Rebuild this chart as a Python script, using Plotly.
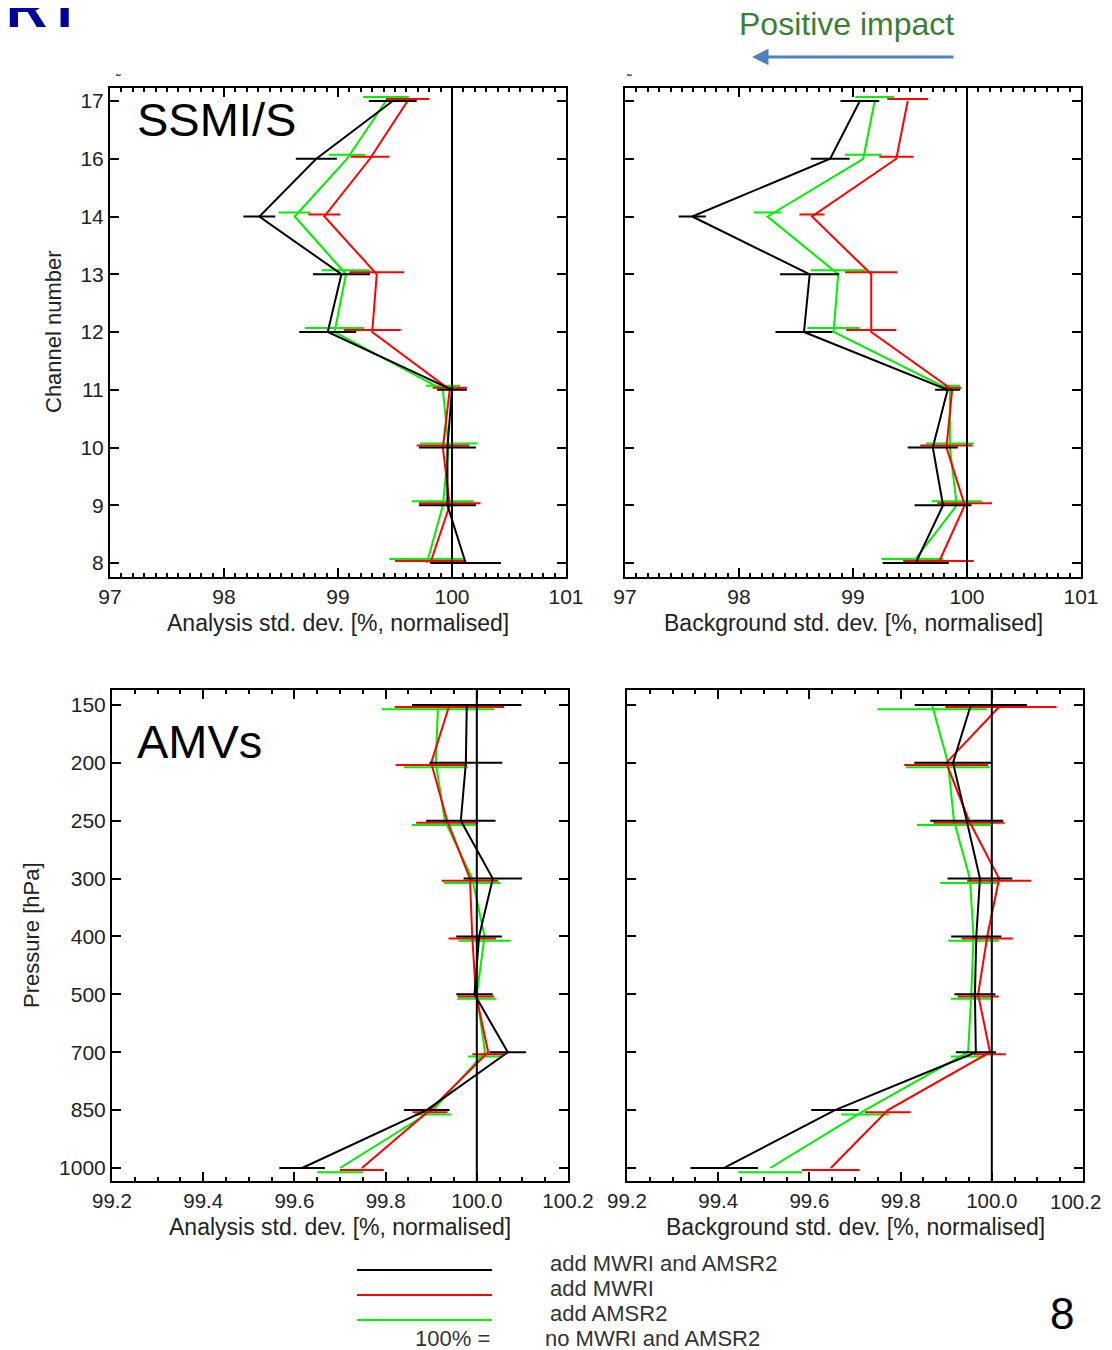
import plotly.graph_objects as go

# page body has an 8px margin, so the figure is laid out in reference pixels minus 8
OFF = 8
W, H = 1104, 1342

# ---- data ----
channels = ["17", "16", "14", "13", "12", "11", "10", "9", "8"]
pressures = ["150", "200", "250", "300", "400", "500", "700", "850", "1000"]

# SSMI/S, analysis std. dev. [%]
ssmis_an_both = [99.48, 98.81, 98.31, 99.03, 98.91, 100.00, 99.96, 99.96, 100.12]
ssmis_an_both_err = [0.21, 0.18, 0.14, 0.25, 0.25, 0.13, 0.25, 0.25, 0.31]
ssmis_an_mwri = [99.61, 99.28, 98.88, 99.34, 99.30, 99.98, 99.92, 99.98, 99.81]
ssmis_an_mwri_err = [0.19, 0.17, 0.14, 0.24, 0.25, 0.15, 0.23, 0.27, 0.31]
ssmis_an_amsr2 = [99.42, 99.08, 98.62, 99.07, 98.97, 99.92, 99.97, 99.92, 99.78]
ssmis_an_amsr2_err = [0.20, 0.16, 0.14, 0.21, 0.26, 0.15, 0.25, 0.27, 0.33]

# SSMI/S, background std. dev. [%]
ssmis_bg_both = [99.06, 98.80, 97.59, 98.62, 98.57, 99.83, 99.70, 99.79, 99.55]
ssmis_bg_both_err = [0.17, 0.17, 0.12, 0.26, 0.25, 0.11, 0.22, 0.25, 0.29]
ssmis_bg_mwri = [99.48, 99.38, 98.64, 99.16, 99.16, 99.87, 99.82, 99.98, 99.75]
ssmis_bg_mwri_err = [0.18, 0.15, 0.11, 0.23, 0.22, 0.08, 0.23, 0.24, 0.31]
ssmis_bg_amsr2 = [99.19, 99.09, 98.25, 98.87, 98.83, 99.85, 99.85, 99.91, 99.52]
ssmis_bg_amsr2_err = [0.17, 0.16, 0.12, 0.24, 0.23, 0.09, 0.21, 0.22, 0.27]

# AMVs, analysis std. dev. [%]
amv_an_both = [99.978, 99.976, 99.965, 100.035, 100.005, 99.995, 100.068, 99.89, 99.617]
amv_an_both_err = [0.12, 0.08, 0.076, 0.064, 0.05, 0.04, 0.04, 0.05, 0.05]
amv_an_mwri = [99.94, 99.90, 99.935, 99.985, 99.99, 99.998, 100.025, 99.897, 99.748]
amv_an_mwri_err = [0.12, 0.078, 0.068, 0.062, 0.052, 0.04, 0.035, 0.038, 0.048]
amv_an_amsr2 = [99.915, 99.91, 99.93, 99.99, 100.017, 100.0, 100.018, 99.904, 99.70]
amv_an_amsr2_err = [0.123, 0.07, 0.072, 0.062, 0.057, 0.043, 0.037, 0.04, 0.05]

# AMVs, background std. dev. [%]
amv_bg_both = [99.954, 99.915, 99.945, 99.974, 99.966, 99.963, 99.965, 99.656, 99.413]
amv_bg_both_err = [0.123, 0.085, 0.08, 0.071, 0.055, 0.045, 0.044, 0.052, 0.074]
amv_bg_mwri = [100.02, 99.90, 99.95, 100.016, 99.99, 99.97, 99.996, 99.772, 99.647]
amv_bg_mwri_err = [0.122, 0.092, 0.078, 0.07, 0.056, 0.045, 0.035, 0.05, 0.063]
amv_bg_amsr2 = [99.869, 99.904, 99.917, 99.952, 99.96, 99.955, 99.948, 99.722, 99.514]
amv_bg_amsr2_err = [0.12, 0.092, 0.081, 0.065, 0.055, 0.045, 0.038, 0.052, 0.07]

legend_labels = ["add MWRI and AMSR2", "add MWRI", "add AMSR2"]
colors = {"both": "black", "mwri": "#ff0000", "amsr2": "#00ee00"}

# categories drawn top -> bottom, index 0 at the bottom
pos = list(range(len(channels) - 1, -1, -1))

fig = go.Figure()


def add_panel(xa, ya, series, bar_shift):
    # green, red, then black so black ends up on top
    for key, vals, errs in series:
        c = colors[key]
        fig.add_trace(go.Scatter(
            x=vals, y=pos, mode="lines", line=dict(color=c, width=2),
            xaxis=xa, yaxis=ya, showlegend=False, hoverinfo="skip"))
        fig.add_trace(go.Scatter(
            x=vals, y=[p + bar_shift[key] for p in pos], mode="markers",
            marker=dict(size=1, opacity=0),
            error_x=dict(type="data", array=errs, visible=True, width=0,
                         thickness=2, color=c),
            xaxis=xa, yaxis=ya, showlegend=False, hoverinfo="skip"))


top_shift = {"amsr2": 0.07, "mwri": 0.035, "both": 0.0}
bot_shift = {"amsr2": -0.075, "mwri": -0.035, "both": 0.0}

add_panel("x", "y", [("amsr2", ssmis_an_amsr2, ssmis_an_amsr2_err),
                     ("mwri", ssmis_an_mwri, ssmis_an_mwri_err),
                     ("both", ssmis_an_both, ssmis_an_both_err)], top_shift)
add_panel("x2", "y2", [("amsr2", ssmis_bg_amsr2, ssmis_bg_amsr2_err),
                       ("mwri", ssmis_bg_mwri, ssmis_bg_mwri_err),
                       ("both", ssmis_bg_both, ssmis_bg_both_err)], top_shift)
add_panel("x3", "y3", [("amsr2", amv_an_amsr2, amv_an_amsr2_err),
                       ("mwri", amv_an_mwri, amv_an_mwri_err),
                       ("both", amv_an_both, amv_an_both_err)], bot_shift)
add_panel("x4", "y4", [("amsr2", amv_bg_amsr2, amv_bg_amsr2_err),
                       ("mwri", amv_bg_mwri, amv_bg_mwri_err),
                       ("both", amv_bg_both, amv_bg_both_err)], bot_shift)

FONT = "Liberation Sans, Arial, Helvetica, sans-serif"


def px_x(p):
    return (p - OFF) / W


def px_y(p):
    return 1 - (p - OFF) / H


def xaxis(x0, x1, y_anchor, rng, tickvals, fmt, minor_dt, size, blank_last=False):
    text = [fmt.format(v) for v in tickvals]
    if blank_last:
        text[-1] = ""  # drawn separately so it is not clipped at the page edge
    return dict(domain=[px_x(x0), px_x(x1)], anchor=y_anchor, range=rng,
                automargin=False, ticklabeloverflow="allow",
                tickmode="array", tickvals=tickvals, ticktext=text,
                showline=True, linecolor="black", linewidth=2, mirror="allticks",
                ticks="inside", ticklen=9, tickwidth=2, tickcolor="black",
                minor=dict(tick0=rng[0], dtick=minor_dt, ticks="inside", ticklen=4,
                           tickwidth=1.5, tickcolor="black", showgrid=False),
                showgrid=False, zeroline=False,
                tickfont=dict(family=FONT, size=size, color="#222"))


def yaxis(y0, y1, x_anchor, rng, labels, show_labels):
    return dict(domain=[px_y(y1), px_y(y0)], anchor=x_anchor, range=rng,
                automargin=False,
                tickmode="array", tickvals=pos, ticktext=labels,
                showticklabels=show_labels,
                showline=True, linecolor="black", linewidth=2, mirror="allticks",
                ticks="inside", ticklen=9, tickwidth=2, tickcolor="black",
                showgrid=False, zeroline=False,
                tickfont=dict(family=FONT, size=21, color="#222"))


top_ticks = [97, 98, 99, 100, 101]
bot_ticks = [99.2, 99.4, 99.6, 99.8, 100.0, 100.2]
top_yr = [-0.242, 8.225]
bot_yr = [-0.225, 8.259]

fig.update_layout(
    width=W, height=H, margin=dict(l=0, r=0, t=0, b=0, pad=0),
    paper_bgcolor="white", plot_bgcolor="white", showlegend=False,
    font=dict(family=FONT, color="#222"),
    xaxis=xaxis(110, 566, "y", [97, 101], top_ticks, "{:d}", 0.1, 21),
    yaxis=yaxis(88, 577, "x", top_yr, channels, True),
    xaxis2=xaxis(625, 1081, "y2", [97, 101], top_ticks, "{:d}", 0.1, 21),
    yaxis2=yaxis(88, 577, "x2", top_yr, channels, False),
    xaxis3=xaxis(112, 568, "y3", [99.2, 100.2], bot_ticks, "{:.1f}", 0.05, 20.5),
    yaxis3=yaxis(690, 1181, "x3", bot_yr, pressures, True),
    xaxis4=xaxis(627, 1083, "y4", [99.2, 100.2], bot_ticks, "{:.1f}", 0.05, 20.5,
                 blank_last=True),
    yaxis4=yaxis(690, 1181, "x4", bot_yr, pressures, False),
)

# 100% reference lines
for xa, ya in [("x", "y"), ("x2", "y2"), ("x3", "y3"), ("x4", "y4")]:
    fig.add_shape(type="line", xref=xa, yref=ya + " domain", x0=100, x1=100,
                  y0=0, y1=1, line=dict(color="black", width=2))


def note(text, x, y, size, color="#222", xanchor="center", yanchor="middle", **kw):
    fig.add_annotation(text=text, x=px_x(x), y=px_y(y), xref="paper", yref="paper",
                       xanchor=xanchor, yanchor=yanchor, showarrow=False,
                       font=dict(family=FONT, size=size, color=color), **kw)


# last tick label of the bottom-right axis, kept inside the page
note("{:.1f}".format(bot_ticks[-1]), 1103, 1201, 20.5, xanchor="right")

# panel titles and axis titles
note("SSMI/S", 135, 120, 47, "black", xanchor="left")
note("AMVs", 135, 741, 47, "black", xanchor="left")
note("Analysis std. dev. [%, normalised]", 338, 623, 23)
note("Background std. dev. [%, normalised]", 853, 623, 23)
note("Analysis std. dev. [%, normalised]", 340, 1227, 23)
note("Background std. dev. [%, normalised]", 855, 1227, 23)
note("Channel number", 53, 332, 22, textangle=-90)
note("Pressure [hPa]", 31, 935, 22, textangle=-90)

# small IDL marks above the top-left corners
note("˜", 118, 80, 14, "#222")
note("˜", 629, 80, 14, "#222")

# header
note("<b>RT</b>", 4, 41, 57, "#00009c", xanchor="left", yanchor="bottom")
note("Positive impact", 846, 24, 32, "#3b7f35")
fig.add_annotation(x=px_x(752), y=px_y(57), xref="paper", yref="paper",
                   ax=203, ay=0, axref="pixel", ayref="pixel", text="",
                   showarrow=True, arrowhead=2, arrowsize=1.1, arrowwidth=3,
                   arrowcolor="#4f81bd")

# legend drawn by hand like the original
for i, key in enumerate(["both", "mwri", "amsr2"]):
    yy = 1270 + 25 * i
    fig.add_shape(type="line", xref="paper", yref="paper",
                  x0=px_x(357), x1=px_x(492), y0=px_y(yy), y1=px_y(yy),
                  line=dict(color=colors[key], width=2))
    note(legend_labels[i], 548, 1263 + 25 * i, 22, "#333", xanchor="left")
note("100% =", 492, 1338, 22, "#333", xanchor="right")
note("no MWRI and AMSR2", 543, 1338, 22, "#333", xanchor="left")

# page number
note("8", 1062, 1313, 44, "black")

fig.write_html("out.html")
